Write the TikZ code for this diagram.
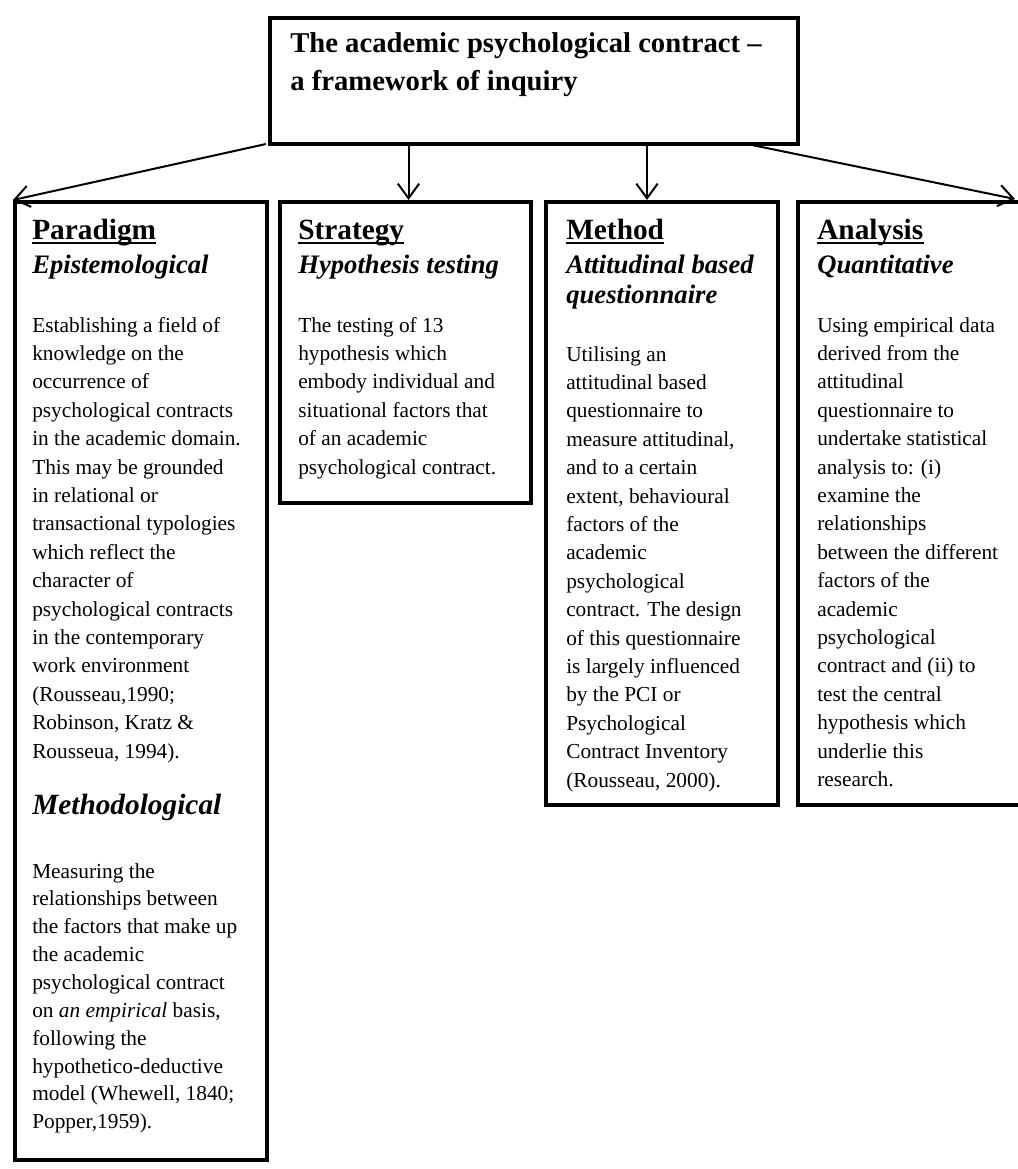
\documentclass[tikz,border=0pt]{standalone}
\usepackage{fontspec}
\setmainfont{Liberation Serif}
\usetikzlibrary{arrows.meta,calc}
\begin{document}
\begin{tikzpicture}[x=0.75pt,y=-0.75pt,
  box/.style={draw, line width=3pt, inner sep=0pt, anchor=north west},
  conn/.style={line width=1.5pt, -{Straight Barb[length=11pt,width=16pt]}},
  txt/.style={anchor=base west, inner sep=0pt},
  body/.style={txt, font=\fontsize{16}{21.3}\selectfont},
  head/.style={txt, font=\fontsize{22}{26}\selectfont\bfseries},
  sub/.style={txt, font=\fontsize{20}{22.5}\selectfont\bfseries\itshape},
  ul/.style={line width=1.5pt}]
\useasboundingbox (0,0) rectangle (1017,1169);

% boxes
\node[box, minimum width=396pt, minimum height=94.5pt] (top) at (268,16) {};
\node[box, minimum width=189pt, minimum height=718.5pt] (para) at (13,200) {};
\node[box, minimum width=188.25pt, minimum height=225.75pt] (strat) at (278,200) {};
\node[box, minimum width=174pt, minimum height=452.25pt] (meth) at (544,200) {};
\node[box, minimum width=175.5pt, minimum height=452.25pt] (ana) at (796,200) {};

% title
\node[txt, font=\fontsize{21.5}{28.5}\selectfont\bfseries] (title) at (290,53)
  {\parbox[t]{500pt}{\raggedright The academic psychological contract –\\a framework of inquiry}};

% connectors
\draw[conn] ($(top.south west)+(-2,-2)$) -- (para.north west);
\draw[conn] ($(strat.north |- top.south)+(3,-4)$) -- ($(strat.north)+(3,0)$);
\draw[conn] ($(meth.north |- top.south)+(-15,-4)$) -- ($(meth.north)+(-15,0)$);
\draw[conn] ($(top.south east)+(-53,-2)$) -- ($(ana.north west)+(219,-1)$);

% Paradigm
\node[head] (hP) at (32,240) {Paradigm};
\draw[ul] ([yshift=-2pt]hP.base west) -- ([yshift=-2pt]hP.base east);
\node[sub] (sP) at (32,274) {Epistemological};
\node[body] (bP) at (32,332) {\parbox[t]{300pt}{\raggedright
Establishing a field of\\
knowledge on the\\
occurrence of\\
psychological contracts\\
in the academic domain.\\
This may be grounded\\
in relational or\\
transactional typologies\\
which reflect the\\
character of\\
psychological contracts\\
in the contemporary\\
work environment\\
(Rousseau,1990;\\
Robinson, Kratz \&\\
Rousseua, 1994).}};
\node[txt, font=\fontsize{22}{26}\selectfont\bfseries\itshape] (mP) at (32,814) {Methodological};
\node[body, font=\fontsize{16}{20.9}\selectfont] (bP2) at (32,878) {\parbox[t]{300pt}{\raggedright
Measuring the\\
relationships between\\
the factors that make up\\
the academic\\
psychological contract\\
on \textit{an empirical} basis,\\
following the\\
hypothetico-deductive\\
model (Whewell, 1840;\\
Popper,1959).}};

% Strategy
\node[head] (hS) at (298,240) {Strategy};
\draw[ul] ([yshift=-2pt]hS.base west) -- ([yshift=-2pt]hS.base east);
\node[sub] (sS) at (298,274) {Hypothesis testing};
\node[body] (bS) at (298,332) {\parbox[t]{300pt}{\raggedright
The testing of 13\\
hypothesis which\\
embody individual and\\
situational factors that\\
of an academic\\
psychological contract.}};

% Method
\node[head] (hM) at (566,240) {Method};
\draw[ul] ([yshift=-2pt]hM.base west) -- ([yshift=-2pt]hM.base east);
\node[sub] (sM) at (566,274) {\parbox[t]{300pt}{\raggedright Attitudinal based\\questionnaire}};
\node[body] (bM) at (566,361) {\parbox[t]{300pt}{\raggedright
Utilising an\\
attitudinal based\\
questionnaire to\\
measure attitudinal,\\
and to a certain\\
extent, behavioural\\
factors of the\\
academic\\
psychological\\
contract. The design\\
of this questionnaire\\
is largely influenced\\
by the PCI or\\
Psychological\\
Contract Inventory\\
(Rousseau, 2000).}};

% Analysis
\node[head] (hA) at (817,240) {Analysis};
\draw[ul] ([yshift=-2pt]hA.base west) -- ([yshift=-2pt]hA.base east);
\node[sub] (sA) at (817,274) {Quantitative};
\node[body] (bA) at (817,332) {\parbox[t]{300pt}{\raggedright
Using empirical data\\
derived from the\\
attitudinal\\
questionnaire to\\
undertake statistical\\
analysis to: (i)\\
examine the\\
relationships\\
between the different\\
factors of the\\
academic\\
psychological\\
contract and (ii) to\\
test the central\\
hypothesis which\\
underlie this\\
research.}};
\end{tikzpicture}
\end{document}
